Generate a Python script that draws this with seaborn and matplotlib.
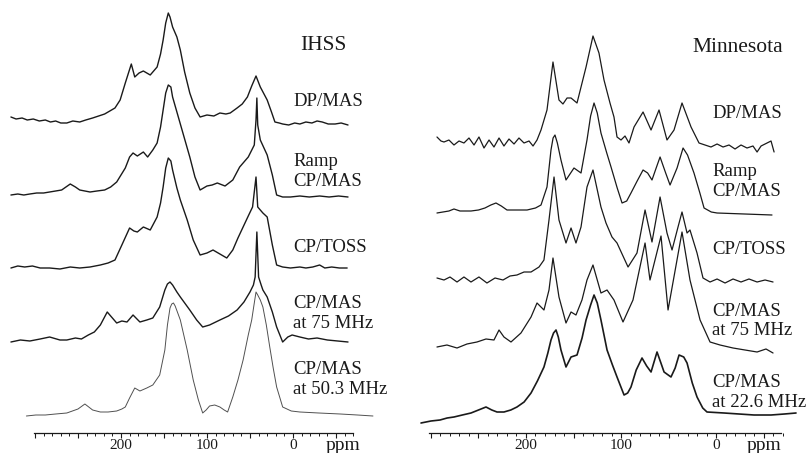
import numpy as np
import pandas as pd
import matplotlib
matplotlib.use("Agg")
import matplotlib.pyplot as plt
from matplotlib.ticker import FixedLocator, FuncFormatter
import seaborn as sns

# ---------------- data (chemical shift in ppm, relative intensity) ----------------
panel_titles = ["IHSS", "Minnesota"]
ihss_labels = ["DP/MAS", "Ramp\nCP/MAS", "CP/TOSS", "CP/MAS\nat 75 MHz", "CP/MAS\nat 50.3 MHz"]
minn_labels = ["DP/MAS", "Ramp\nCP/MAS", "CP/TOSS", "CP/MAS\nat 75 MHz", "CP/MAS\nat 22.6 MHz"]
tick_labels = ["200", "100", "0"]
tick_label_values = [200, 100, 0]
axis_unit = "ppm"

ihss_dp_ppm = [328, 322, 315, 309, 302, 295, 288, 282, 276, 270, 263, 256, 248, 241, 233, 226, 219, 213, 207, 201,
               195, 188, 184, 179, 174, 166, 158, 154, 151, 148, 145, 143, 140, 135, 131, 126, 120, 114, 108, 100,
               92, 85, 78, 73, 65, 59, 53, 48, 43, 38, 30, 25, 21, 16, 12, 5, -2, -8, -15, -22,
               -28, -34, -41, -49, -56, -64]
ihss_dp_int = [7, 5, 6, 4, 5, 3, 4, 2, 3, 1, 1, 3, 2, 4, 6, 8, 10, 13, 16, 24,
               41, 60, 47, 51, 53, 49, 57, 70, 84, 101, 111, 107, 97, 87, 74, 52, 31, 16, 7, 9,
               8, 11, 10, 11, 16, 20, 27, 38, 48, 37, 24, 12, 2, 1, 0, -1, 1, 0, 2, 1,
               3, 2, 0, 0, 1, -1]

ihss_ramp_ppm = [328, 320, 313, 306, 298, 290, 283, 276, 269, 264, 259, 253, 248, 242, 236, 228, 219, 212, 205, 195,
                 190, 186, 181, 174, 169, 163, 158, 154, 151, 148, 145, 142, 140, 134, 128, 120, 114, 108, 100, 94,
                 88, 79, 70, 62, 52, 45, 43, 42, 41, 38, 30, 24, 19, 12, 3, -8, -19, -31, -42, -53, -64]
ihss_ramp_int = [2, 3, 2, 3, 4, 4, 5, 6, 7, 10, 13, 10, 7, 6, 5, 6, 7, 10, 15, 29,
                 40, 44, 41, 45, 40, 47, 54, 70, 87, 104, 112, 110, 100, 82, 64, 40, 20, 7, 11, 12,
                 14, 11, 17, 30, 40, 52, 77, 99, 72, 57, 42, 22, 2, 0, 0, 1, 0, 1, 0, 1, 0]

ihss_toss_ppm = [328, 320, 312, 303, 294, 283, 271, 259, 248, 236, 224, 215, 207, 199, 190, 185, 181, 174, 166, 158,
                 154, 151, 148, 145, 142, 140, 135, 131, 123, 116, 108, 100, 93, 85, 77, 70, 64, 58, 52, 47,
                 43, 41, 35, 30, 24, 19, 12, 3, -8, -15, -23, -31, -37, -45, -54, -63]
ihss_toss_int = [0, 2, 1, 2, 0, 0, -1, 1, 0, 1, 3, 5, 8, 23, 40, 37, 36, 41, 38, 51,
                 65, 81, 100, 110, 107, 98, 80, 68, 48, 28, 13, 15, 18, 14, 10, 18, 30, 41, 52, 61,
                 91, 61, 55, 51, 23, 3, 1, 0, 1, 0, 1, 3, 0, 1, 0, 0]

ihss_75_ppm = [328, 317, 306, 294, 283, 271, 263, 253, 246, 238, 231, 224, 216, 210, 205, 199, 193, 186, 178, 170,
               163, 155, 149, 146, 143, 140, 135, 131, 120, 112, 105, 97, 85, 75, 65, 57, 50, 46, 44, 42,
               40, 37, 35, 30, 24, 19, 12, 6, 1, -8, -18, -28, -40, -52, -64]
ihss_75_int = [0, 2, 1, 3, 5, 2, 2, 4, 3, 7, 10, 17, 30, 24, 19, 21, 20, 27, 20, 22,
               24, 35, 52, 58, 60, 57, 50, 45, 32, 22, 15, 17, 22, 26, 32, 40, 50, 57, 65, 110,
               65, 57, 52, 45, 30, 15, 0, 5, 7, 5, 3, 4, 2, 1, 0]

ihss_50_ppm = [310, 299, 288, 276, 263, 250, 242, 236, 233, 224, 215, 205, 199, 195, 190, 184, 178, 170, 163, 155,
               149, 146, 143, 141, 139, 137, 134, 131, 127, 123, 116, 110, 105, 101, 97, 91, 85, 80, 76, 70,
               64, 58, 52, 48, 45, 43, 41, 38, 35, 31, 27, 23, 19, 12, 2, -8, -30, -55, -75, -93]
ihss_50_int = [-3, -2, -2, -1, 0, 4, 9, 5, 3, 1, 1, 2, 4, 6, 15, 25, 22, 25, 28, 38,
               63, 88, 105, 109, 110, 107, 100, 93, 78, 63, 33, 13, 0, 3, 7, 8, 6, 3, 1, 16,
               33, 53, 78, 93, 110, 121, 118, 113, 106, 88, 66, 45, 26, 6, 2, 1, 0, -1, -2, -3]

minn_dp_ppm = [293.7, 289.5, 286.3, 281.1, 275.8, 270.5, 265.3, 260.0, 254.7, 249.5, 244.2, 238.9, 233.7, 228.4,
               223.2, 217.9, 212.6, 207.4, 202.1, 196.8, 192.6, 188.4, 184.2, 177.9, 171.6, 165.3, 161.1, 156.8,
               152.6, 146.3, 136.8, 129.5, 123.2, 117.9, 111.6, 107.4, 104.2, 100.0, 95.8, 91.6, 86.3, 76.8, 68.4,
               60.0, 51.6, 44.2, 35.8, 26.3, 17.9, 11.6, 5.3, -1.1, -7.4, -13.7, -20.0, -26.3, -32.6, -38.9, -43.2,
               -47.4, -53.7, -57.9, -61.1]
minn_dp_int = [10, 6, 5, 7, 2, 6, 4, 9, 2, 10, -1, 7, 0, 9,
               1, 8, 3, 9, 4, 6, 1, 7, 17, 37, 85, 47, 43, 49,
               49, 44, 80, 111, 94, 67, 44, 30, 10, 7, 11, 4, 20, 35, 17,
               37, 7, 17, 44, 20, 4, 2, 0, 3, 0, 2, -2, 2, -1, 1, -5,
               1, 4, 6, -5]

minn_ramp_ppm = [293.7, 281.1, 275.8, 269.5, 257.9, 250, 243.2, 237, 231.6, 226, 220.0, 210, 198.9, 190, 184.2,
                 177.9, 173.7, 171.5, 169.5, 167, 163.2, 157.9, 153, 149.5, 142.1, 135.8, 132, 128.4, 125, 121.1,
                 115, 110.5, 104, 98.9, 94, 89.5, 83, 76.8, 72, 67.4, 63, 58.9, 53, 48.4, 41, 34.7, 30, 23.2, 17,
                 12.6, 5, -1.1, -30, -58.9]
minn_ramp_int = [0, 2, 4, 2, 2, 3, 5, 8, 10, 7, 3, 3, 3, 5, 8,
                 26, 63, 75, 78, 70, 53, 33, 40, 45, 40, 73, 97, 110, 100, 80,
                 60, 46, 25, 10, 12, 20, 32, 43, 40, 33, 45, 56, 40, 28, 45, 65, 58, 40, 20,
                 5, 1, 0, -1, -2]

minn_toss_ppm = [293.7, 286.3, 280.0, 272.6, 265.3, 257.9, 249.5, 241.1, 232.6, 224.2, 216.8, 209.5, 202.1, 194.7,
                 186.3, 181.1, 175.8, 170.5, 165.3, 157.9, 152.6, 147.4, 142.1, 135.8, 129.5, 121.1, 115.8, 109.5,
                 104.2, 92.6, 83.2, 74.7, 67.4, 58.9, 51.6, 46.3, 40.0, 35.8, 30.5, 27.4, 20.0, 13.7, 6.3, -1.1,
                 -9.5, -17.9, -26.3, -34.7, -43.2, -51.6, -60.0]
minn_toss_int = [2, 0, 3, -2, 3, -2, 3, -3, 2, 0, 4, 5, 8, 8,
                 13, 20, 60, 103, 60, 37, 52, 37, 53, 93, 110, 73, 57, 43,
                 37, 13, 27, 70, 38, 83, 47, 30, 53, 68, 47, 50, 27, 2, -2, 1,
                 -3, 1, -2, 1, -2, 0, -2]

minn_75_ppm = [293.7, 283.2, 272.6, 262.1, 251.6, 242.1, 233.7, 228.4, 223.2, 215.8, 205.3, 194.7, 188.4, 181.1,
               175.8, 171.6, 165.3, 157.9, 152.6, 147.4, 141.1, 135.8, 129.5, 121.1, 114.7, 107.4, 97.9, 87.4,
               74.7, 69.5, 57.9, 50.5, 35.8, 27.4, 16.8, 6.3, -4.2, -17.9, -30.5, -43.2, -52.6, -60.0]
minn_75_int = [3, 5, 2, 6, 8, 11, 10, 20, 13, 8, 17, 33, 47, 40,
               60, 92, 53, 27, 38, 35, 50, 70, 85, 57, 60, 50, 28, 50,
               107, 70, 114, 40, 118, 70, 30, 8, 5, 2, 0, -2, 1, -3]

minn_22_ppm = [310.5, 300, 290.5, 283, 275.8, 267, 257.9, 250, 242.1, 236, 230.5, 223.2, 216, 209.5, 202, 194.7,
               188, 181.1, 177, 173.7, 171, 168.4, 166, 163.2, 157.9, 152.6, 146.3, 141, 136.8, 132, 128.4, 125,
               121.1, 114.7, 109, 104.2, 96.8, 93, 89.5, 84, 77.9, 73, 68.4, 62.1, 58, 54.7, 47.4, 43, 38.9, 34,
               30.5, 25, 20.0, 14, 9.5, -8.4, -40.0, -57.9, -72, -84.2]
minn_22_int = [-10, -8, -7, -5, -4, -2, 0, 3, 6, 3, 1, 1, 3, 6, 11, 20,
               32, 46, 60, 73, 80, 83, 76, 63, 46, 56, 58, 75, 93, 108, 118, 110,
               93, 63, 48, 36, 18, 20, 26, 43, 55, 47, 41, 61, 50, 41, 36, 45, 58, 56,
               50, 30, 16, 5, 1, 0, -2, -2, -1, 0]

# ---------------- figure ----------------
sns.set_theme(style="white")
plt.rcParams["font.family"] = ["Liberation Serif", "DejaVu Serif"]

W, H = 808, 453
fig = plt.figure(figsize=(W / 100, H / 100), dpi=100)

ihss_traces = [(ihss_dp_ppm, ihss_dp_int), (ihss_ramp_ppm, ihss_ramp_int), (ihss_toss_ppm, ihss_toss_int),
               (ihss_75_ppm, ihss_75_int), (ihss_50_ppm, ihss_50_int)]
minn_traces = [(minn_dp_ppm, minn_dp_int), (minn_ramp_ppm, minn_ramp_int), (minn_toss_ppm, minn_toss_int),
               (minn_75_ppm, minn_75_int), (minn_22_ppm, minn_22_int)]

panels = [
    dict(title=panel_titles[0], traces=ihss_traces, labels=ihss_labels,
         rect=[0, 20 / H, 404 / W, 433 / H], xlim=(340.7, -129.1), axis_bounds=(-70, 301),
         offsets=[309, 236, 165, 91, 20],
         styles=[(1.0, "#1a1a1a")] * 4 + [(0.7, "#505050")],
         label_x=0.0, label_y=[331, 261.5, 185, 119.5, 53.5],
         title_xy=(-8, 388), unit_x=-58),
    dict(title=panel_titles[1], traces=minn_traces, labels=minn_labels,
         rect=[404 / W, 20 / H, 404 / W, 433 / H], xlim=(328.4, -96.8), axis_bounds=(-68, 302),
         offsets=[286, 220, 153, 83, 20],
         styles=[(0.9, "#1a1a1a")] * 4 + [(1.2, "#1a1a1a")],
         label_x=4.2, label_y=[320, 251.5, 183, 112, 40.5],
         title_xy=(25.3, 386), unit_x=-50.5),
]

for p in panels:
    ax = fig.add_axes(p["rect"])
    for (ppm, inten), off, (lw, col) in zip(p["traces"], p["offsets"], p["styles"]):
        df = pd.DataFrame({"ppm": ppm, "intensity": np.asarray(inten, float) + off})
        sns.lineplot(data=df, x="ppm", y="intensity", ax=ax, color=col, linewidth=lw,
                     estimator=None, sort=False)
    ax.set_xlim(*p["xlim"])
    ax.set_ylim(0, 433)
    ax.set_xlabel("")
    ax.set_ylabel("")
    ax.set_facecolor("white")
    for s in ["left", "right", "top"]:
        ax.spines[s].set_visible(False)
    ax.spines["bottom"].set_bounds(*p["axis_bounds"])
    ax.spines["bottom"].set_color("#1a1a1a")
    ax.spines["bottom"].set_linewidth(0.9)
    ax.set_yticks([])
    ax.xaxis.set_major_locator(FixedLocator(list(range(-50, 301, 50))))
    ax.xaxis.set_minor_locator(FixedLocator([v for v in range(-70, 301, 10) if v % 50 != 0]))
    ax.xaxis.set_major_formatter(FuncFormatter(
        lambda v, pos: tick_labels[tick_label_values.index(int(round(v)))] if int(round(v)) in tick_label_values else ""))
    ax.tick_params(axis="x", which="major", bottom=True, direction="out", length=3.5, width=0.8,
                   color="#1a1a1a", labelsize=11, pad=0.5, labelcolor="#1a1a1a")
    ax.tick_params(axis="x", which="minor", bottom=True, direction="out", length=2.2, width=0.7,
                   color="#1a1a1a")
    ax.text(p["unit_x"], -12, axis_unit, ha="center", va="center", fontsize=14, color="#1a1a1a")
    ax.text(p["title_xy"][0], p["title_xy"][1], p["title"], ha="left", va="center", fontsize=15.5,
            color="#1a1a1a")
    for lab, ly in zip(p["labels"], p["label_y"]):
        ax.text(p["label_x"], ly, lab, ha="left", va="center", fontsize=13.5, color="#1a1a1a",
                linespacing=1.2)

fig.savefig("out.png", dpi=100)
